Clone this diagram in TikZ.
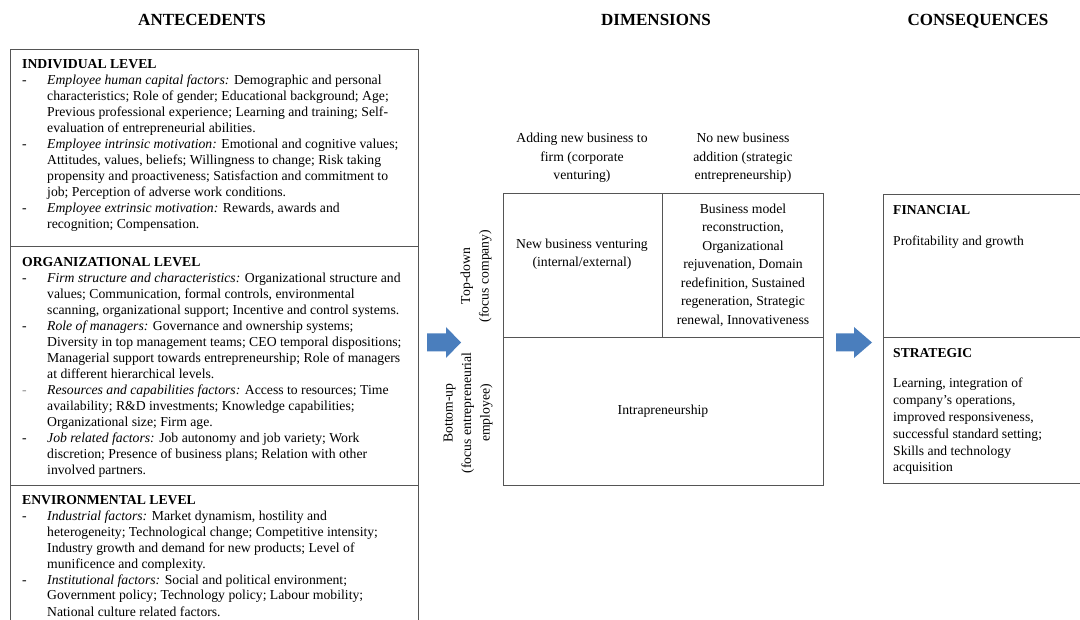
\documentclass[tikz,border=0pt]{standalone}
\usepackage{fontspec}
\setmainfont{Liberation Serif}
\usepackage{array}
\definecolor{boxline}{HTML}{555555}
\definecolor{arrowblue}{HTML}{4A7EBD}
\newcommand{\bodyfont}{\fontsize{13.7}{16}\selectfont}
\newcommand{\matfont}{\fontsize{13.7}{18.5}\selectfont}
\newcommand{\consfont}{\fontsize{13.6}{16.8}\selectfont}
\tikzset{
  boxrule/.style={draw=boxline, line width=1pt},
  coltitle/.style={font=\fontsize{17}{19}\selectfont\bfseries, inner sep=0pt, anchor=base},
  sectext/.style={font=\bodyfont, inner sep=0pt, anchor=base west},
  mattext/.style={font=\matfont, inner sep=0pt, align=center},
  constext/.style={font=\consfont, inner sep=0pt, anchor=base west},
  blockarrow/.style={fill=arrowblue, draw=none}
}
\begin{document}
\begin{tikzpicture}[x=1pt, y=-1pt]
\useasboundingbox (0,0) rectangle (1080,620);
\begin{scope}
\clip (0,0) rectangle (1080,620);
% titles
\node[coltitle] (tAnte) at (202,26) {ANTECEDENTS};
\node[coltitle] (tDim)  at (656,26) {DIMENSIONS};
\node[coltitle] (tCons) at (978,26) {CONSEQUENCES};

% antecedents box
\draw[boxrule] (10.5,630) -- (10.5,50) -- (418.5,50) -- (418.5,630);
\draw[boxrule] (10.5,247) -- (418.5,247);
\draw[boxrule] (10.5,485) -- (418.5,485);

\node[sectext] (indiv) at (22,69) {%
\begin{tabular}[t]{@{}p{25pt}@{}l@{}}
\multicolumn{2}{@{}l@{}}{\textbf{INDIVIDUAL LEVEL}}\\
- & \textit{Employee human capital factors:} Demographic and personal\\
  & characteristics; Role of gender; Educational background; Age;\\
  & Previous professional experience; Learning and training; Self-\\
  & evaluation of entrepreneurial abilities.\\
- & \textit{Employee intrinsic motivation:} Emotional and cognitive values;\\
  & Attitudes, values, beliefs; Willingness to change; Risk taking\\
  & propensity and proactiveness; Satisfaction and commitment to\\
  & job; Perception of adverse work conditions.\\
- & \textit{Employee extrinsic motivation:} Rewards, awards and\\
  & recognition; Compensation.
\end{tabular}};

\node[sectext] (org) at (22,267) {%
\begin{tabular}[t]{@{}p{25pt}@{}l@{}}
\multicolumn{2}{@{}l@{}}{\textbf{ORGANIZATIONAL LEVEL}}\\
- & \textit{Firm structure and characteristics:} Organizational structure and\\
  & values; Communication, formal controls, environmental\\
  & scanning, organizational support; Incentive and control systems.\\
- & \textit{Role of managers:} Governance and ownership systems;\\
  & Diversity in top management teams; CEO temporal dispositions;\\
  & Managerial support towards entrepreneurship; Role of managers\\
  & at different hierarchical levels.\\
\textcolor{black!45}{-} & \textit{Resources and capabilities factors:} Access to resources; Time\\
  & availability; R\&D investments; Knowledge capabilities;\\
  & Organizational size; Firm age.\\
- & \textit{Job related factors:} Job autonomy and job variety; Work\\
  & discretion; Presence of business plans; Relation with other\\
  & involved partners.
\end{tabular}};

\node[sectext] (env) at (22,504) {%
\begin{tabular}[t]{@{}p{25pt}@{}l@{}}
\multicolumn{2}{@{}l@{}}{\textbf{ENVIRONMENTAL LEVEL}}\\
- & \textit{Industrial factors:} Market dynamism, hostility and\\
  & heterogeneity; Technological change; Competitive intensity;\\
  & Industry growth and demand for new products; Level of\\
  & munificence and complexity.\\
- & \textit{Institutional factors:} Social and political environment;\\
  & Government policy; Technology policy; Labour mobility;\\
  & National culture related factors.
\end{tabular}};

% block arrows
\fill[blockarrow] (427,333.5) -- (446,333.5) -- (446,327) -- (461,342.5) -- (446,358) -- (446,351.5) -- (427,351.5) -- cycle;
\fill[blockarrow] (836,333.5) -- (854,333.5) -- (854,327) -- (872,342.5) -- (854,358) -- (854,351.5) -- (836,351.5) -- cycle;

% dimensions matrix
\draw[boxrule] (503,194) rectangle (823,485);
\draw[boxrule] (503,338) -- (823,338);
\draw[boxrule] (662,194) -- (662,338);

\node[mattext] (colA) at (582,158) {Adding new business to\\firm (corporate\\venturing)};
\node[mattext] (colB) at (743,158) {No new business\\addition (strategic\\entrepreneurship)};
\node[mattext, rotate=90] (rowA) at (476,276) {Top-down\\(focus company)};
\node[mattext, rotate=90] (rowB) at (468,413) {Bottom-up\\(focus entrepreneurial\\employee)};
\node[mattext] (cellA) at (582,254) {New business venturing\\(internal/external)};
\node[mattext] (cellB) at (743,265) {Business model\\reconstruction,\\Organizational\\rejuvenation, Domain\\redefinition, Sustained\\regeneration, Strategic\\renewal, Innovativeness};
\node[mattext] (cellC) at (663,411) {Intrapreneurship};

% consequences box
\draw[boxrule] (1090,195) -- (883,195) -- (883,483) -- (1090,483);
\draw[boxrule] (883,338) -- (1090,338);
\node[constext] (fin) at (893,214.5) {\textbf{FINANCIAL}};
\node[constext] (finT) at (893,246) {Profitability and growth};
\node[constext] (strat) at (893,357.5) {\textbf{STRATEGIC}};
\node[constext] (stratT) at (893,388) {%
\begin{tabular}[t]{@{}l@{}}
Learning, integration of\\
company’s operations,\\
improved responsiveness,\\
successful standard setting;\\
Skills and technology\\
acquisition
\end{tabular}};
\end{scope}
\end{tikzpicture}
\end{document}
